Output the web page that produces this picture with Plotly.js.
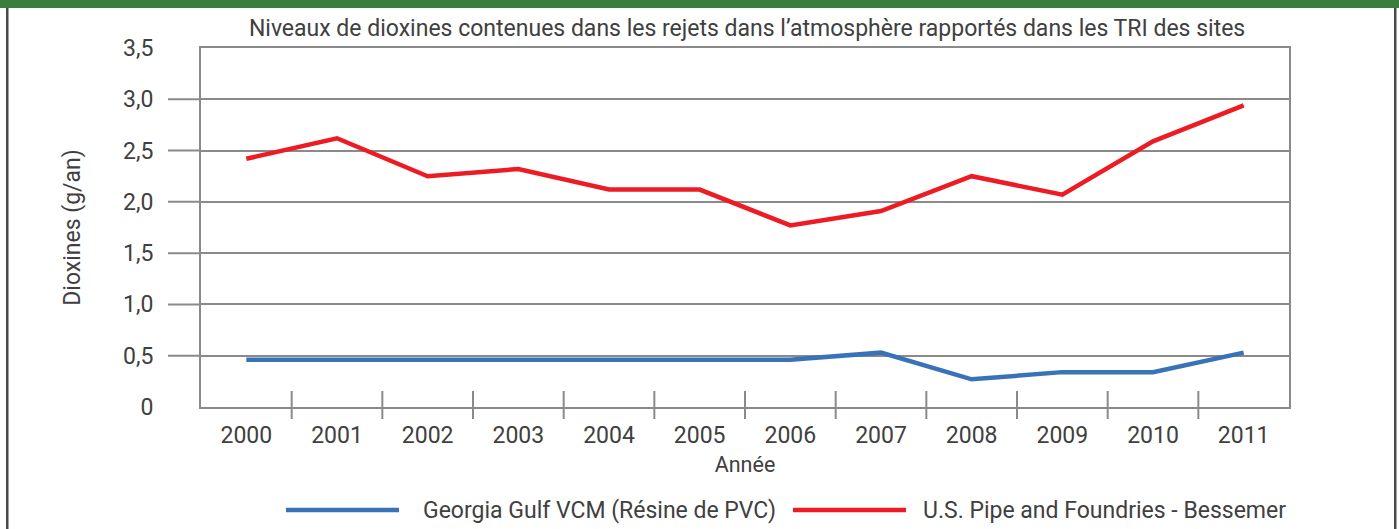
<!DOCTYPE html>
<html>
<head>
<meta charset="utf-8">
<script src="https://cdn.plot.ly/plotly-3.0.1.min.js"></script>
<style>
html,body{margin:0;padding:0;background:#fff;}
#chart{width:1399px;height:529px;}
</style>
</head>
<body>
<div id="chart"></div>
<script>
// ---- data ----
const years = ["2000","2001","2002","2003","2004","2005","2006","2007","2008","2009","2010","2011"];
const georgiaGulf = [0.46,0.46,0.46,0.46,0.46,0.46,0.46,0.53,0.27,0.34,0.34,0.53];
const usPipe = [2.42,2.62,2.25,2.32,2.12,2.12,1.77,1.91,2.25,2.07,2.59,2.94];
const seriesNames = ["Georgia Gulf VCM (Résine de PVC)","U.S. Pipe and Foundries - Bessemer"];
const yTickVals = [0,0.5,1.0,1.5,2.0,2.5,3.0,3.5];
const yTickText = ["0","0,5","1,0","1,5","2,0","2,5","3,0","3,5"];
const titleText = "Niveaux de dioxines contenues dans les rejets dans l’atmosphère rapportés dans les TRI des sites";
const xTitle = "Année";
const yTitle = "Dioxines (g/an)";

// ---- style ----
const FONT = 'Roboto, "Liberation Sans", sans-serif';
const TXT = '#404040';
const GRID = '#8a8a8a';
const BLUE = '#3873b9';
const RED = '#ed1c24';

const W = 1399, H = 529;
const L = 201, R = 1289, T = 48, B = 407;
const pw = R - L, ph = B - T;
const px = x => (x - L) / pw;
const py = y => (B - y) / ph;

const traces = [
  {x: years, y: georgiaGulf, name: seriesNames[0], type: 'scatter', mode: 'lines',
   line: {color: BLUE, width: 4.5}, showlegend: false, hoverinfo: 'x+y'},
  {x: years, y: usPipe, name: seriesNames[1], type: 'scatter', mode: 'lines',
   line: {color: RED, width: 4.5}, showlegend: false, hoverinfo: 'x+y'}
];

const shapes = [];
// green band at top
shapes.push({type: 'rect', xref: 'paper', yref: 'paper', x0: px(0), x1: px(W), y0: py(8), y1: py(0),
  fillcolor: '#3b7d3b', line: {width: 0}, layer: 'above'});
// side borders
shapes.push({type: 'rect', xref: 'paper', yref: 'paper', x0: px(6), x1: px(8.5), y0: py(H), y1: py(8),
  fillcolor: '#4a4a4a', line: {width: 0}});
shapes.push({type: 'rect', xref: 'paper', yref: 'paper', x0: px(1394), x1: px(1396.5), y0: py(H), y1: py(8),
  fillcolor: '#4a4a4a', line: {width: 0}});
// y tick marks (outside)
yTickVals.slice(1, -1).forEach(v => {
  shapes.push({type: 'line', xref: 'paper', yref: 'y', x0: px(168), x1: 0, y0: v, y1: v,
    line: {color: GRID, width: 2}});
});
// x tick marks at category boundaries (crossing the axis)
years.slice(0, -1).forEach((_, i) => {
  shapes.push({type: 'line', xref: 'x', yref: 'paper', x0: i + 0.5, x1: i + 0.5, y0: py(419), y1: py(391),
    line: {color: GRID, width: 2}});
});
// legend line symbols
const legendY = py(510);
shapes.push({type: 'line', xref: 'paper', yref: 'paper', x0: px(286), x1: px(399), y0: legendY, y1: legendY,
  line: {color: BLUE, width: 4.5}});
shapes.push({type: 'line', xref: 'paper', yref: 'paper', x0: px(793), x1: px(906), y0: legendY, y1: legendY,
  line: {color: RED, width: 4.5}});

const annotations = [
  {text: seriesNames[0], xref: 'paper', yref: 'paper', x: px(421), y: legendY, xanchor: 'left', yanchor: 'middle',
   showarrow: false, font: {family: FONT, size: 23, color: TXT}},
  {text: seriesNames[1], xref: 'paper', yref: 'paper', x: px(921), y: legendY, xanchor: 'left', yanchor: 'middle',
   showarrow: false, font: {family: FONT, size: 23, color: TXT}}
];

const layout = {
  width: W, height: H,
  margin: {l: L, r: W - R, t: T, b: H - B, pad: 0},
  paper_bgcolor: '#ffffff', plot_bgcolor: '#ffffff',
  font: {family: FONT, color: TXT, size: 23},
  title: {text: titleText, x: 0.534, xanchor: 'center', xref: 'container', yref: 'container',
    y: 1 - 28 / H, yanchor: 'middle', font: {family: FONT, size: 23, color: TXT}},
  xaxis: {
    type: 'category', range: [-0.5, 11.5], showgrid: false, zeroline: false,
    showline: true, mirror: true, linecolor: GRID, linewidth: 2,
    ticks: 'outside', ticklen: 6, tickcolor: 'rgba(0,0,0,0)',
    tickfont: {family: FONT, size: 23, color: TXT},
    title: {text: xTitle, standoff: 9, font: {family: FONT, size: 21.5, color: TXT}},
    fixedrange: true
  },
  yaxis: {
    range: [0, 3.5], tickvals: yTickVals, ticktext: yTickText,
    showgrid: true, gridcolor: GRID, gridwidth: 2, zeroline: false,
    showline: true, mirror: true, linecolor: GRID, linewidth: 2,
    ticks: 'outside', ticklen: 41, tickcolor: 'rgba(0,0,0,0)',
    tickfont: {family: FONT, size: 23, color: TXT},
    title: {text: yTitle, standoff: 36, font: {family: FONT, size: 23, color: TXT}},
    fixedrange: true
  },
  shapes: shapes,
  annotations: annotations,
  showlegend: false
};

Plotly.newPlot('chart', traces, layout, {displayModeBar: false, staticPlot: true});
</script>
</body>
</html>
